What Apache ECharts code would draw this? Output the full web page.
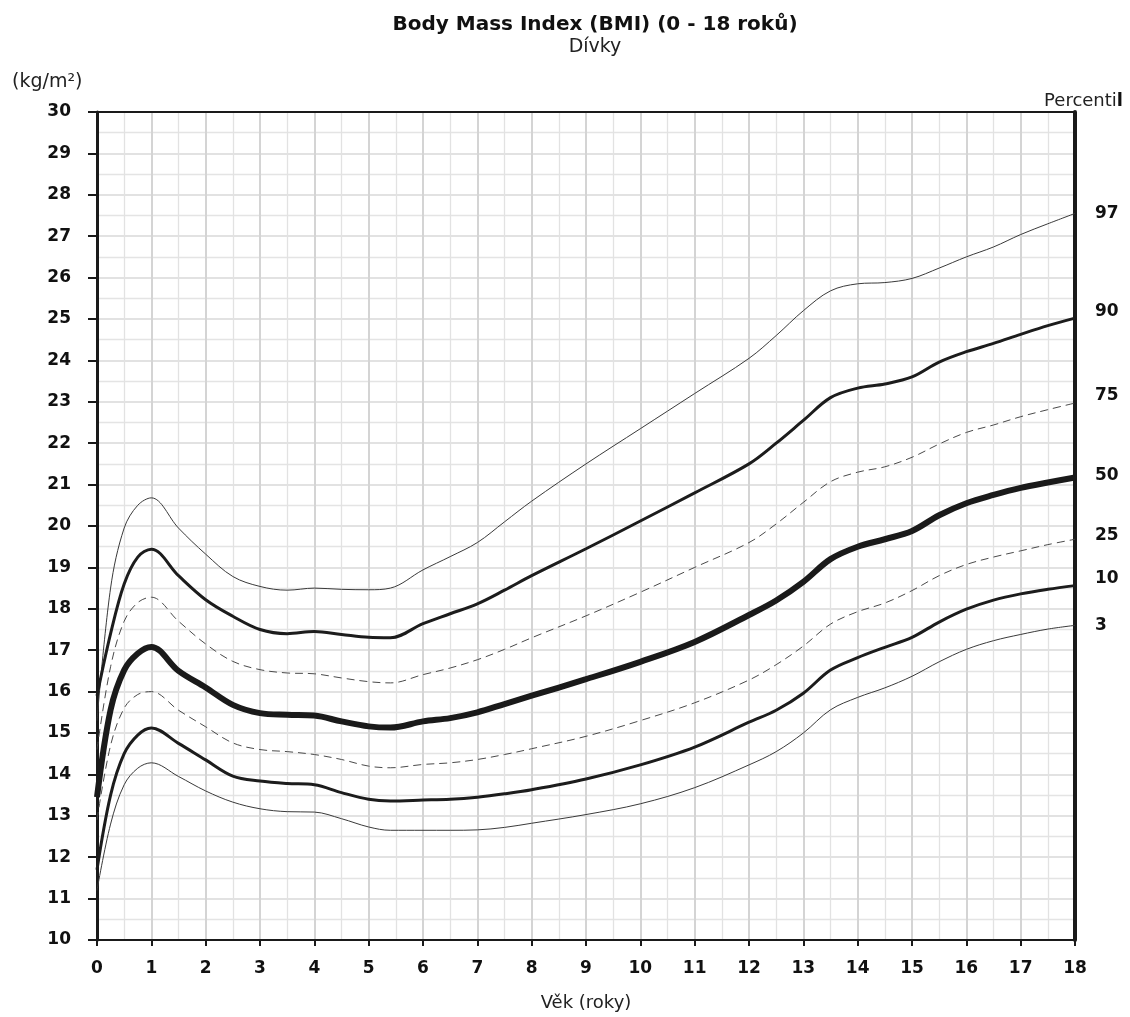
<!DOCTYPE html>
<html lang="cs">
<head>
<meta charset="UTF-8">
<title>Body Mass Index (BMI) (0 - 18 roků) - Dívky</title>
<script src="https://cdn.jsdelivr.net/npm/echarts@6/dist/echarts.min.js"></script>
<style>
  html, body { margin: 0; padding: 0; background: #fff; overflow: hidden; }
  #main { width: 1130px; height: 1017px; }
</style>
</head>
<body>
<div id="main"></div>
<script type="text/javascript">
// věk (roky)
var ages = [0, 0.25, 0.5, 0.75, 1, 1.5, 2, 2.5, 3, 3.5, 4, 4.5, 5, 5.4, 6, 6.5, 7, 7.5, 8, 9, 10, 11, 12, 12.5, 13, 13.5, 14, 14.5, 15, 15.5, 16, 16.5, 17, 17.5, 18];

// percentily BMI (kg/m2)
var p97 = [15.3, 18.5, 19.95, 20.5, 20.68, 19.95, 19.32, 18.78, 18.54, 18.45, 18.5, 18.47, 18.46, 18.5, 18.94, 19.26, 19.6, 20.1, 20.6, 21.5, 22.35, 23.2, 24.05, 24.6, 25.2, 25.68, 25.85, 25.88, 25.98, 26.23, 26.5, 26.74, 27.04, 27.3, 27.55];
var p90 = [15.9, 17.4, 18.6, 19.25, 19.44, 18.8, 18.22, 17.82, 17.5, 17.4, 17.45, 17.38, 17.31, 17.3, 17.64, 17.88, 18.12, 18.45, 18.8, 19.45, 20.12, 20.8, 21.5, 22.0, 22.55, 23.1, 23.33, 23.43, 23.6, 23.96, 24.21, 24.41, 24.63, 24.84, 25.02];
var p75 = [14.6, 16.6, 17.7, 18.15, 18.28, 17.7, 17.15, 16.73, 16.53, 16.45, 16.43, 16.33, 16.24, 16.21, 16.41, 16.57, 16.77, 17.02, 17.3, 17.83, 18.4, 19.0, 19.6, 20.05, 20.57, 21.07, 21.3, 21.43, 21.66, 21.98, 22.26, 22.44, 22.64, 22.81, 22.97];
var p50 = [13.45, 15.56, 16.52, 16.92, 17.08, 16.5, 16.1, 15.68, 15.48, 15.44, 15.42, 15.28, 15.16, 15.13, 15.28, 15.36, 15.5, 15.7, 15.9, 16.3, 16.72, 17.2, 17.85, 18.2, 18.65, 19.2, 19.5, 19.68, 19.88, 20.26, 20.55, 20.75, 20.92, 21.05, 21.17];
var p25 = [12.9, 14.7, 15.6, 15.93, 16.0, 15.55, 15.15, 14.76, 14.6, 14.55, 14.48, 14.36, 14.2, 14.16, 14.24, 14.28, 14.36, 14.48, 14.62, 14.92, 15.3, 15.73, 16.28, 16.65, 17.1, 17.63, 17.93, 18.14, 18.44, 18.8, 19.07, 19.25, 19.4, 19.55, 19.68];
var p10 = [11.7, 13.5, 14.5, 14.95, 15.12, 14.75, 14.35, 13.96, 13.84, 13.78, 13.75, 13.56, 13.4, 13.36, 13.38, 13.4, 13.45, 13.53, 13.63, 13.89, 14.23, 14.66, 15.26, 15.55, 15.96, 16.52, 16.82, 17.07, 17.31, 17.68, 17.99, 18.21, 18.36, 18.47, 18.56];
var p3 = [11.2, 12.8, 13.75, 14.15, 14.28, 13.95, 13.6, 13.33, 13.17, 13.1, 13.09, 12.93, 12.73, 12.65, 12.65, 12.65, 12.66, 12.72, 12.82, 13.03, 13.29, 13.68, 14.23, 14.55, 15.0, 15.56, 15.86, 16.09, 16.37, 16.72, 17.02, 17.23, 17.38, 17.51, 17.6];

var percentileNames = ['97', '90', '75', '50', '25', '10', '3'];

var FONT = 'DejaVu Sans';

function pairs(values) {
    return ages.map(function (a, i) { return [a, values[i]]; });
}

// styl čáry podle percentilu
function curve(name, values, width, dashed, color, labelDy, z) {
    return {
        name: name,
        type: 'line',
        data: pairs(values),
        smooth: 0.35,
        symbol: 'none',
        z: z,
        lineStyle: {
            color: color,
            width: width,
            type: dashed ? [8, 5] : 'solid',
            cap: 'butt'
        },
        endLabel: {
            show: true,
            formatter: name,
            offset: [12, labelDy],
            color: '#111',
            fontFamily: FONT,
            fontWeight: 'bold',
            fontSize: 17
        },
        emphasis: { disabled: true }
    };
}

var myChart = echarts.init(document.getElementById('main'));

var option = {
    backgroundColor: '#fff',
    animation: false,
    title: [
        {
            text: 'Body Mass Index (BMI) (0 - 18 roků)',
            subtext: 'Dívky',
            left: 590,
            textAlign: 'center',
            top: 10,
            itemGap: 3,
            textStyle: { fontFamily: FONT, fontWeight: 'bold', fontSize: 20, color: '#111' },
            subtextStyle: { fontFamily: FONT, fontSize: 19, color: '#222' }
        },
        {
            text: '(kg/m²)',
            left: 7,
            top: 68,
            textStyle: { fontFamily: FONT, fontWeight: 'normal', fontSize: 19, color: '#222' }
        },
        {
            text: '{a|Percenti}{b|l}',
            right: 2,
            top: 87,
            textStyle: {
                fontWeight: 'normal',
                rich: {
                    a: { fontFamily: FONT, fontSize: 18, fontWeight: 'normal', color: '#222' },
                    b: { fontFamily: FONT, fontSize: 18, fontWeight: 'bold', color: '#111' }
                }
            }
        }
    ],
    grid: {
        left: 97,
        right: 55,
        top: 112,
        bottom: 74,
        show: false
    },
    xAxis: [
        {
            type: 'value',
            min: 0,
            max: 18,
            interval: 1,
            name: 'Věk (roky)',
            nameLocation: 'middle',
            nameGap: 54,
            nameTextStyle: { fontFamily: FONT, fontSize: 18, color: '#222' },
            axisLine: { show: true, onZero: false, lineStyle: { color: '#1a1a1a', width: 2 } },
            axisTick: { show: true, length: 6, lineStyle: { color: '#1a1a1a', width: 2 } },
            axisLabel: { margin: 20, fontFamily: FONT, fontWeight: 'bold', fontSize: 17, color: '#111' },
            splitLine: { show: true, lineStyle: { color: '#d4d4d4', width: 2 } },
            minorTick: { show: false, splitNumber: 2 },
            minorSplitLine: { show: true, lineStyle: { color: '#e2e2e2', width: 1.3 } }
        },
        {
            // horní okraj grafu
            type: 'value',
            position: 'top',
            min: 0,
            max: 18,
            interval: 1,
            axisLine: { show: true, onZero: false, lineStyle: { color: '#1a1a1a', width: 2 } },
            axisTick: { show: false },
            axisLabel: { show: false },
            splitLine: { show: false }
        }
    ],
    yAxis: [
        {
            type: 'value',
            min: 10,
            max: 30,
            interval: 1,
            axisLine: { show: true, onZero: false, lineStyle: { color: '#1a1a1a', width: 3 } },
            axisTick: { show: true, length: 9, lineStyle: { color: '#1a1a1a', width: 2 } },
            axisLabel: { margin: 26, fontFamily: FONT, fontWeight: 'bold', fontSize: 17, color: '#111' },
            splitLine: { show: true, lineStyle: { color: '#d8d8d8', width: 1.6 } },
            minorTick: { show: false, splitNumber: 2 },
            minorSplitLine: { show: true, lineStyle: { color: '#e4e4e4', width: 1.3 } }
        },
        {
            // pravý okraj grafu
            type: 'value',
            position: 'right',
            min: 10,
            max: 30,
            interval: 1,
            axisLine: { show: true, onZero: false, lineStyle: { color: '#1a1a1a', width: 4 } },
            axisTick: { show: false },
            axisLabel: { show: false },
            splitLine: { show: false }
        }
    ],
    series: [
        curve(percentileNames[0], p97, 1, false, '#3a3a3a', 0, 3),
        curve(percentileNames[1], p90, 3, false, '#1c1c1c', -7, 4),
        curve(percentileNames[2], p75, 1, true, '#4a4a4a', -7, 3),
        curve(percentileNames[3], p50, 6, false, '#1a1a1a', -2, 5),
        curve(percentileNames[4], p25, 1, true, '#4a4a4a', -4, 3),
        curve(percentileNames[5], p10, 3, false, '#1c1c1c', -7, 4),
        curve(percentileNames[6], p3, 1, false, '#3a3a3a', 0, 3)
    ]
};

myChart.setOption(option);
</script>
</body>
</html>
